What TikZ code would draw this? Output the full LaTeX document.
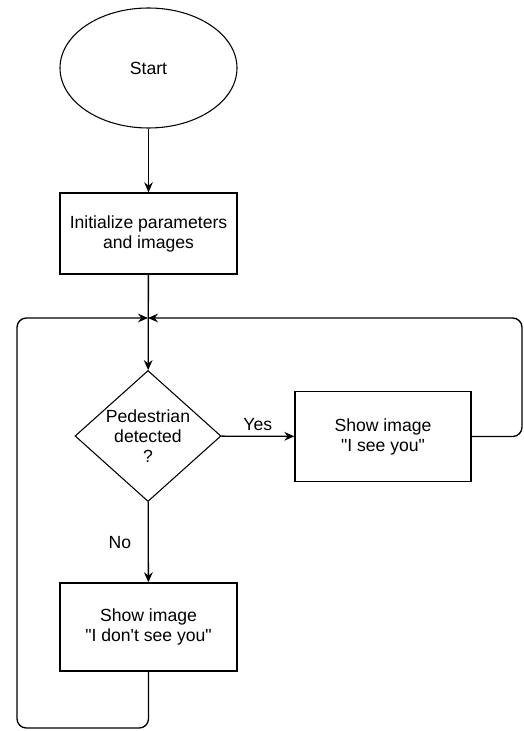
\documentclass[tikz,border=0pt]{standalone}
\usepackage{fontspec}
\setmainfont{Liberation Sans}[Ligatures=TeXOff]
\usetikzlibrary{shapes.geometric,arrows.meta}

\begin{document}
\begin{tikzpicture}
        [x=0.75pt, y=-0.75pt,
         mytext/.style={font=\fontsize{13.2}{15}\selectfont, align=center},
         myellipse/.style={ellipse, draw=black, line width=0.8pt, minimum width=132.75pt, minimum height=90pt, mytext},
         mybox/.style={rectangle, draw=black, line width=1pt, minimum width=132.75pt, mytext},
         mydiamond/.style={diamond, draw=black, line width=0.8pt, aspect=1.11, inner sep=0pt, minimum width=109.5pt, minimum height=98.25pt, mytext},
         myline/.style={draw=black, line width=1pt},
         myarrow/.style={myline, -{Stealth[length=7.5pt, width=6.5pt]}}]
        \useasboundingbox (0,0) rectangle (524,731);
        \node [myellipse] (start) at (148.5,68) {Start};
        \node [mybox, minimum height=60.75pt] (init) at (148.5,233.5) {Initialize parameters\\and images};
        \coordinate (join) at (148,318);
        \node [mydiamond] (decision) at (148,436) {Pedestrian\\detected\\?};
        \node [mybox, minimum width=132pt, minimum height=67.5pt] (showyes) at (383,436.5) {Show image\\"I see you"};
        \node [mybox, minimum height=66pt] (showno) at (148.5,627) {Show image\\"I don't see you"};
        \coordinate (rightedge) at (522,318);
        \coordinate (leftedge) at (17,728);
        % \node [mytext] at (253,423) {Yes};
        \draw [myarrow] (start) -- (init);
        \draw [myarrow] (init) -- (decision);
        \draw [myarrow] (decision) -- node [above, mytext] {Yes} (showyes);
        \draw [myarrow] (decision) -- node [left=9pt, mytext] {No} (showno);
        \draw [myarrow, rounded corners=7pt] (showyes.east) -- (showyes.east -| rightedge) -- (rightedge) -- (join);
        \draw [myarrow, rounded corners=7pt] (showno.south) -- (showno.south |- leftedge) -- (leftedge) -- (leftedge |- join) -- (join);
    \end{tikzpicture}
\end{document}
